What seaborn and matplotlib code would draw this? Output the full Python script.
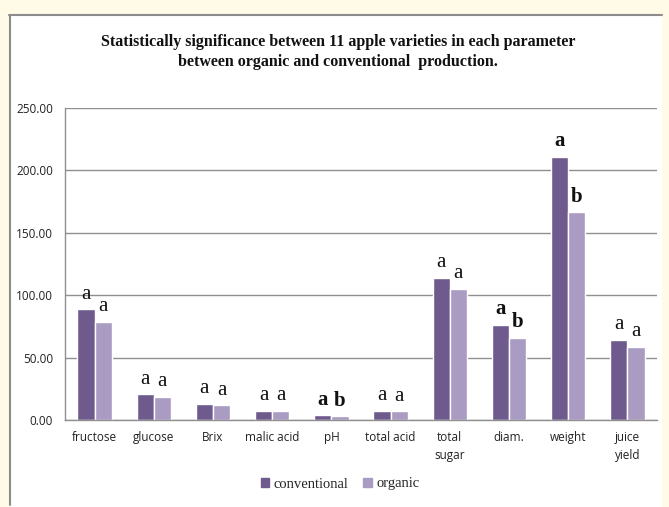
import numpy as np
import pandas as pd
import matplotlib
matplotlib.use("Agg")
import matplotlib.pyplot as plt
import seaborn as sns
from matplotlib.patches import Rectangle
from matplotlib.lines import Line2D

parameters = ["fructose", "glucose", "Brix", "malic acid", "pH", "total acid",
              "total\nsugar", "diam.", "weight", "juice\nyield"]
conventional = [88.6, 20.5, 12.8, 7.2, 3.7, 7.2, 114.0, 76.1, 210.9, 64.1]
organic = [78.5, 18.4, 11.7, 7.2, 3.0, 7.0, 105.2, 66.0, 166.4, 58.5]

letters_conv = ["a", "a", "a", "a", "a", "a", "a", "a", "a", "a"]
letters_org = ["a", "a", "a", "a", "b", "a", "a", "b", "b", "a"]
bold_groups = ["pH", "diam.", "weight"]

COL_CONV = "#6f5a8e"
COL_ORG = "#a99bc1"
CREAM = "#fffbe7"

df = pd.DataFrame({
    "parameter": parameters * 2,
    "value": conventional + organic,
    "production": ["conventional"] * len(parameters) + ["organic"] * len(parameters),
})

sns.set_style("white")
fig = plt.figure(figsize=(6.69, 5.07), dpi=100, facecolor=CREAM)

# white panel with grey top/left border
panel = Rectangle((9 / 669, 0), (662 - 9) / 669, 1 - 14 / 507,
                  transform=fig.transFigure, facecolor="white", edgecolor="none", zorder=-5)
fig.patches.append(panel)
fig.lines.append(Line2D([9 / 669, 662 / 669], [1 - 14.5 / 507] * 2, transform=fig.transFigure,
                        color="#8c8c8c", lw=1.5, zorder=-4))
fig.lines.append(Line2D([9.5 / 669] * 2, [0.004, 1 - 14.5 / 507], transform=fig.transFigure,
                        color="#8c8c8c", lw=1.5, zorder=-4))

ax = fig.add_axes([65 / 669, 1 - 420 / 507, (657 - 65) / 669, (420 - 108) / 507])
ax.set_facecolor("none")

sns.barplot(data=df, x="parameter", y="value", hue="production",
            palette=[COL_CONV, COL_ORG], width=0.58, gap=0, saturation=1,
            ax=ax, legend=False)

ax.set_ylim(0, 250)
ax.set_xlim(-0.5, len(parameters) - 0.5)
ax.set_yticks(np.arange(0, 251, 50))
ax.set_yticklabels([f"{v:.2f}" for v in np.arange(0, 251, 50)])
ax.yaxis.grid(True, color="#8f8f8f", lw=1)
ax.set_axisbelow(True)
ax.set_xlabel("")
ax.set_ylabel("")

for s in ["top", "right"]:
    ax.spines[s].set_visible(False)
for s in ["left", "bottom"]:
    ax.spines[s].set_color("#8f8f8f")
    ax.spines[s].set_linewidth(1)

ax.set_xticks(range(len(parameters)))
ax.set_xticklabels(parameters, fontsize=8.5, family="Open Sans", linespacing=1.5,
                   va="top", color="#222222")
ax.set_xticks(np.arange(-0.5, len(parameters)), minor=True)
ax.tick_params(axis="x", which="major", length=0, pad=8)
ax.tick_params(axis="x", which="minor", length=5, color="#8f8f8f", direction="out")
ax.tick_params(axis="y", length=5, color="#8f8f8f", direction="out", labelsize=8.5,
               labelcolor="#222222")
for t in ax.get_yticklabels():
    t.set_family("Open Sans")

# significance letters
for cont, letters in zip(ax.containers, [letters_conv, letters_org]):
    anns = ax.bar_label(cont, labels=letters, padding=4, fontsize=15,
                        family="Liberation Serif", color="#111111")
    for ann, p in zip(anns, parameters):
        if p in bold_groups:
            ann.set_fontweight("bold")

fig.text(338 / 669, 1 - 52 / 507,
         "Statistically significance between 11 apple varieties in each parameter\n"
         "between organic and conventional  production.",
         ha="center", va="center", fontsize=11.5, fontweight="bold",
         family="Liberation Serif", linespacing=1.4, color="#111111")

handles = [Rectangle((0, 0), 1, 1, color=COL_CONV), Rectangle((0, 0), 1, 1, color=COL_ORG)]
fig.legend(handles, ["conventional", "organic"], loc="center", ncol=2,
           bbox_to_anchor=(340 / 669, 1 - 484 / 507), frameon=False,
           prop={"family": "Liberation Serif", "size": 10.5},
           handlelength=0.6, handleheight=0.6, handletextpad=0.3, columnspacing=1.0)

fig.savefig("out.png", dpi=100, facecolor=CREAM)
